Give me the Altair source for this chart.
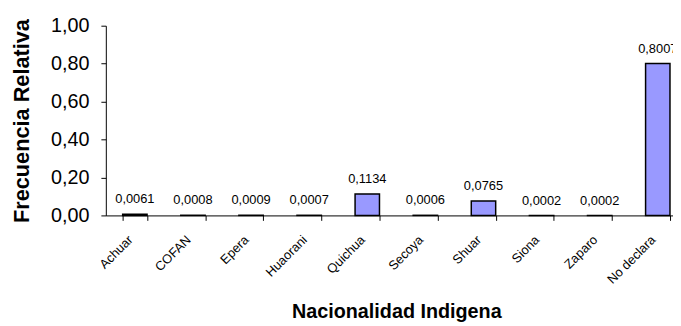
import altair as alt
import pandas as pd

categories = ["Achuar", "COFAN", "Epera", "Huaorani", "Quichua", "Secoya", "Shuar", "Siona", "Zaparo", "No declara"]
values = [0.0061, 0.0008, 0.0009, 0.0007, 0.1134, 0.0006, 0.0765, 0.0002, 0.0002, 0.8007]
value_labels = ["0,0061", "0,0008", "0,0009", "0,0007", "0,1134", "0,0006", "0,0765", "0,0002", "0,0002", "0,8007"]

df = pd.DataFrame({"cat": categories, "val": values, "lab": value_labels})

FONT = "Liberation Sans"

x = alt.X(
    "cat:N",
    sort=categories,
    scale=alt.Scale(paddingInner=0.58, paddingOuter=0.29),
    axis=alt.Axis(
        title="Nacionalidad Indigena",
        titleFont=FONT,
        titleFontSize=20,
        titleFontWeight="bold",
        titleColor="black",
        titlePadding=16,
        labelAngle=-45,
        labelAlign="right",
        labelBaseline="top",
        labelFont=FONT,
        labelFontSize=13,
        labelColor="black",
        labelPadding=13,
        labelOffset=-9,
        tickBand="extent",
        tickSize=5,
        tickColor="black",
        domainColor="black",
        labelOverlap=False,
    ),
)

y = alt.Y(
    "val:Q",
    scale=alt.Scale(domain=[0, 1]),
    axis=alt.Axis(
        title="Frecuencia Relativa",
        titleFont=FONT,
        titleFontSize=22,
        titleFontWeight="bold",
        titleColor="black",
        titlePadding=17,
        values=[0, 0.2, 0.4, 0.6, 0.8, 1.0],
        labelExpr="replace(format(datum.value, '.2f'), '.', ',')",
        labelFont=FONT,
        labelFontSize=20,
        labelColor="black",
        labelOverlap=False,
        tickSize=5,
        tickColor="black",
        domainColor="black",
        grid=False,
        labelPadding=12,
    ),
)

base = alt.Chart(df)

bars = base.mark_bar(color="#9999FF", stroke="black", strokeWidth=1.5).encode(x=x, y=y)

texts = base.mark_text(baseline="bottom", dy=-8, font=FONT, fontSize=13, color="black").encode(
    x=x, y=y, text="lab:N"
)

chart = (
    alt.layer(bars, texts)
    .properties(
        width=588,
        height=192,
        padding={"left": 99, "top": 16, "right": -14, "bottom": 110},
        autosize=alt.AutoSizeParams(type="none"),
        background="white",
    )
    .configure_view(stroke=None)
)

chart.save("out.html", embed_options={"renderer": "svg", "actions": False})
